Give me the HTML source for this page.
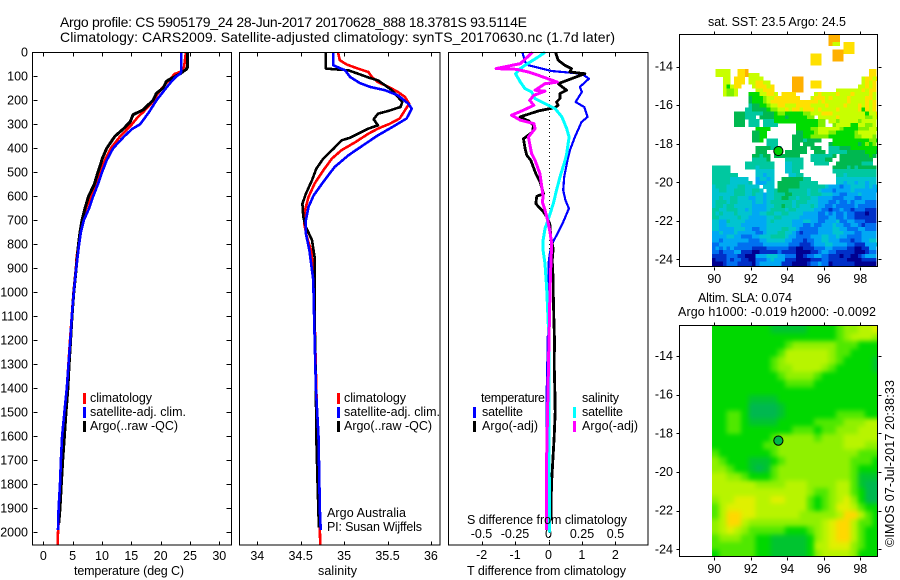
<!DOCTYPE html>
<html><head><meta charset="utf-8"><title>Argo profile</title>
<style>
html,body{margin:0;padding:0;background:#fff;width:900px;height:580px;overflow:hidden}
svg{display:block}
text{font-family:"Liberation Sans",sans-serif;font-size:12.5px;fill:#000}
.t{font-size:14px}
</style></head><body>
<svg id="chart" width="900" height="580" viewBox="0 0 900 580" xmlns="http://www.w3.org/2000/svg">
<defs>
<filter id="slaBlur" filterUnits="userSpaceOnUse" x="680" y="300" width="220" height="280" color-interpolation-filters="sRGB"><feGaussianBlur stdDeviation="2.4"/></filter>
<clipPath id="slaClip"><rect x="712" y="326" width="165.5" height="230.5"/></clipPath>
</defs>
<text class="t" x="60" y="27" textLength="467">Argo profile: CS 5905179_24 28-Jun-2017 20170628_888 18.3781S 93.5114E</text>
<text class="t" x="60" y="42" textLength="555">Climatology: CARS2009. Satellite-adjusted climatology: synTS_20170630.nc (1.7d later)</text>

<g id="sstCells"></g>
<g clip-path="url(#slaClip)"><g id="slaCells" filter="url(#slaBlur)"></g></g>
<g id="maps"></g>
<g id="plots"></g>

<rect x="32.5" y="52.5" width="199" height="492.5" fill="none" stroke="#000" shape-rendering="crispEdges"/>
<rect x="239.5" y="52.5" width="200.5" height="492.5" fill="none" stroke="#000" shape-rendering="crispEdges"/>
<rect x="448.5" y="52.5" width="199.5" height="492.5" fill="none" stroke="#000" shape-rendering="crispEdges"/>
<rect x="679.5" y="34.5" width="198" height="232" fill="none" stroke="#000" shape-rendering="crispEdges"/>
<rect x="679.5" y="325.5" width="198" height="231" fill="none" stroke="#000" shape-rendering="crispEdges"/>

<text x="74" y="575" textLength="110">temperature (deg C)</text>
<text x="318" y="575" textLength="39">salinity</text>
<text x="467" y="575" textLength="159">T difference from climatology</text>
<text x="467" y="524" textLength="160">S difference from climatology</text>

<g>
<rect x="83" y="393" width="3" height="11" fill="#f00"/>
<rect x="83" y="407" width="3" height="11" fill="#00f"/>
<rect x="83" y="421" width="3" height="11" fill="#000"/>
<text x="90" y="402" textLength="62">climatology</text>
<text x="90" y="416" textLength="96">satellite-adj. clim.</text>
<text x="90" y="430" textLength="88">Argo(..raw -QC)</text>
</g>
<g>
<rect x="337" y="393" width="3" height="11" fill="#f00"/>
<rect x="337" y="407" width="3" height="11" fill="#00f"/>
<rect x="337" y="421" width="3" height="11" fill="#000"/>
<text x="344" y="402" textLength="62">climatology</text>
<text x="344" y="416" textLength="96">satellite-adj. clim.</text>
<text x="344" y="430" textLength="88">Argo(..raw -QC)</text>
<text x="327" y="517" textLength="79">Argo Australia</text>
<text x="327" y="531" textLength="95">PI: Susan Wijffels</text>
</g>
<g>
<rect x="473" y="407" width="3" height="11" fill="#00f"/>
<rect x="473" y="421" width="3" height="11" fill="#000"/>
<rect x="573" y="407" width="3" height="11" fill="#0ff"/>
<rect x="573" y="421" width="3" height="11" fill="#f0f"/>
<text x="481" y="402" textLength="64">temperature</text>
<text x="482" y="416" textLength="41">satellite</text>
<text x="482" y="430" textLength="56">Argo(-adj)</text>
<text x="582" y="402" textLength="37">salinity</text>
<text x="582" y="416" textLength="41">satellite</text>
<text x="582" y="430" textLength="56">Argo(-adj)</text>
</g>

<text x="708" y="26" textLength="138">sat. SST: 23.5 Argo: 24.5</text>
<text x="698" y="302" textLength="94">Altim. SLA: 0.074</text>
<text x="678" y="316" textLength="198">Argo h1000: -0.019 h2000: -0.0092</text>
<text transform="translate(894,547) rotate(-90)" x="0" y="0" textLength="167">©IMOS 07-Jul-2017 20:38:33</text>
</svg>
<script>
// ---- axis tick values
const depthTicks = [0,100,200,300,400,500,600,700,800,900,1000,1100,1200,1300,1400,1500,1600,1700,1800,1900,2000];
const tempTicks = [0,5,10,15,20,25,30];
const salTicks = [34,34.5,35,35.5,36];
const tDiffTicks = [-2,-1,0,1,2];
const tDiffLabels = ['-2','-1','0','1','2'];
const sDiffTicks = [-0.5,-0.25,0,0.25,0.5];
const lonTicks = [90,92,94,96,98];
const latTicks = [-14,-16,-18,-20,-22,-24];

// ---- temperature panel data
const tempArgoDepth = [0,60,70,90,120,150,170,200,240,260,290,320,350,400,440,500,550,600,650,700,750,800,900,1000,1100,1200,1300,1400,1500,1600,1700,1800,1900,1960];
const tempArgo = [24.6,24.6,24.4,23.3,21.0,20.4,19.3,18.7,17.0,15.3,14.8,13.6,12.2,10.8,10.1,9.3,8.7,7.7,7.1,6.6,6.25,6.0,5.6,5.2,4.9,4.65,4.4,4.2,3.87,3.6,3.3,3.07,2.85,2.65];
const tempClimDepth = [0,60,80,90,120,150,180,200,250,270,300,350,400,450,500,550,600,650,700,750,800,850,900,1000,1200,1400,1600,1800,2000,2050];
const tempClim = [24.3,24.0,23.5,22.4,21.3,20.2,19.3,18.9,17.0,16.1,15.1,13.1,11.5,10.5,9.7,8.9,8.1,7.3,6.8,6.25,6.0,5.7,5.55,5.15,4.55,4.0,3.5,3.0,2.5,2.45];
const tempSatDepth = [0,80,90,100,120,150,200,250,300,320,350,400,450,500,550,600,650,700,750,800,900,1000,1100,1200,1300,1400,1500,1600,1700,1800,1900,1990];
const tempSat = [23.5,23.5,23.3,22.7,21.9,20.9,19.3,18.0,16.5,15.1,13.8,11.9,10.8,10.0,9.3,8.5,7.8,6.9,6.4,6.1,5.6,5.2,4.85,4.6,4.3,4.0,3.6,3.2,3.0,2.85,2.6,2.5];

// ---- salinity panel data
const salArgoDepth = [0,68,75,89,105,117,137,158,186,207,228,244,256,279,304,318,336,356,367,401,443,485,533,589,631,686,728,783,853,1033,1200,1400,1600,1800,1980];
const salArgo = [34.79,34.79,35.05,35.16,35.28,35.39,35.47,35.55,35.62,35.67,35.65,35.51,35.39,35.34,35.39,35.28,35.18,35.07,34.97,34.88,34.76,34.68,34.63,34.56,34.52,34.53,34.56,34.63,34.66,34.66,34.665,34.675,34.68,34.695,34.71];
const salClimDepth = [0,33,51,68,82,103,124,144,165,186,214,242,276,297,318,339,374,408,443,492,547,603,658,714,769,825,894,1033,1400,1800,2050];
const salClim = [34.93,34.95,35.03,35.16,35.28,35.32,35.39,35.51,35.62,35.70,35.75,35.70,35.64,35.53,35.39,35.28,35.13,34.97,34.86,34.76,34.66,34.59,34.55,34.54,34.57,34.62,34.64,34.655,34.68,34.71,34.725];
const salSatDepth = [0,54,75,103,128,144,158,179,214,235,276,304,346,387,429,478,540,596,644,700,756,825,950,1033,1400,1500,1600,1800,1900,1990];
const salSat = [34.875,34.875,35.01,35.07,35.18,35.30,35.47,35.62,35.74,35.78,35.72,35.59,35.39,35.22,35.05,34.89,34.76,34.65,34.59,34.56,34.56,34.60,34.645,34.65,34.675,34.69,34.705,34.715,34.72,34.73];

// ---- difference panel data
const dTSatDepth = [0,40,54,78,89,110,144,165,207,228,269,290,353,408,450,519,575,617,651,707,749,797,839,881,992,1200,1400,1650];
const dTSat = [-0.78,-0.70,-0.60,0.09,0.99,1.21,0.94,1.0,0.81,1.07,1.17,0.99,0.79,0.64,0.57,0.47,0.44,0.51,0.61,0.44,0.29,0.11,0.04,0,0,-0.02,-0.05,-0.05];
const dTArgoDepth = [0,33,54,68,82,89,110,131,158,172,193,207,221,231,244,269,286,304,332,360,401,429,450,506,540,589,600,631,665,686,714,769,818,867,950,992,1100,1200,1300,1400,1500,1600,1800,1950];
const dTArgo = [0.21,0.29,0.49,0.69,0.64,1.09,0.69,0.29,0.54,0.34,0.34,0.24,0.29,0.19,-0.30,-0.85,-0.60,-0.45,-0.48,-0.75,-0.70,-0.65,-0.53,-0.38,-0.25,-0.15,-0.35,-0.38,-0.15,-0.05,0.04,0.07,0.14,0.11,0.14,0.14,0.16,0.18,0.17,0.19,0.2,0.17,0.09,0.07];
const dSSatDepth = [0,19,50,68,89,124,151,165,193,214,235,269,318,353,422,450,519,575,631,693,735,783,825,881,978,1200,1600,2000];
const dSSat = [-0.026,-0.076,-0.164,-0.21,-0.246,-0.21,-0.176,-0.126,-0.10,-0.026,0.05,0.1,0.136,0.154,0.136,0.124,0.086,0.06,0.036,0,-0.026,-0.04,-0.04,-0.026,-0.014,0.004,0.004,0.008];
const dSArgoDepth = [0,47,68,71,82,96,124,131,158,162,179,200,221,242,262,283,297,318,353,422,450,506,561,603,624,658,700,749,797,867,992,1300,1700,1990];
const dSArgo = [-0.12,-0.21,-0.39,-0.24,-0.15,-0.076,0.066,-0.026,-0.10,-0.026,-0.11,-0.14,-0.11,-0.19,-0.276,-0.21,-0.11,-0.10,-0.15,-0.126,-0.10,-0.064,-0.05,-0.04,-0.046,-0.026,-0.006,0.011,0.024,0.019,0.011,0,-0.014,-0.014];

// ---- SST map: 0.2 degree cells, colour-class per cell, '.' = no data
const sstLevels = {'0':'#000090','1':'#0030c8','2':'#0070f0','3':'#00a8f4','4':'#00c4d0','5':'#00c8a0','6':'#00b850','7':'#00dc00','8':'#80f000','9':'#c8ff00','a':'#ffe000','b':'#ffb000'};
const sstRows = [
"................................bbb",
"................................bbb",
"................................b99.aaa",
"....................................aaa",
".................................bbbaaa",
"...........................aaa...bbb",
"...........................aaa...bbb",
"...........................aaa",
"",
".9999..aab.................................aa",
".9999..aab999..............................aa",
"...99.aaa.9999........bbb................9aa9a",
"...99.aaa.99aa99......bbb..aaa...........9a9a",
"...979aa...9aaa9a.....bbb..aaa..........99a9a",
"...9889.....99aaa.....bbb.........9999999a9aa",
"...9889...77799aa9.aaaa.....9a9999a999a9999a9",
"..........6777899aaaaaaa...9aaa9a9999a9999aa9",
"..........677789aaaaaaaaaaaaa9a999999a9999a9a",
"..........56677899aa999aaaa9999a9999a999a9a9a",
".........55666678899a9aa9aaa9a9999a99999a7a9a",
"......666555556667887777788999aaa999999999799a",
"......666555.666677767777788.99999a99999998899",
"......666.555.55577777777777788.9989999989999",
"......666.555.5555.....77777788..899997799889",
"............7777.......77778899999987777888998",
"...........6677........6677789998877777899999",
"...........6677.......66677888887777777889998",
"...........667.555....66656666...77777777778877",
"...............555....66.666....6777777767878",
"............6666555...6666.666..55566677777777",
"............666.....666666..666.555556666677767",
"...........66566.6666666...5555556.6666666676",
"...........55556....55555..555566..666666666",
".........55555555...44555...5555..6666666555",
"55555....55545555...44555........666656566666",
"55555.......44444...4455.........555555555555",
"5555555.....44344....4455.........55455555555",
"5555544444..34434..66666655.......44444444444",
"55555444445.33344.66666655555.....44344344344",
"4555444554444.444.6666665555555433323344443434",
"44554455544554.4456665555545543332333343333333",
"444444555445443445556655554555444332233343333",
"445445544433443445566554555443333222333223333",
"455545544443443455555545554443332232232333222",
"455455444443333445565545444543322322222322222",
"554455544343333455554554444433221223221222111",
"545444544443344554455444433332232322322111011",
"554444454433333445544444333332223322322111111",
"443354444333333454444433344332233342233222111",
"443344443333333444444433322322333433223321222",
"443333444332233444455443222223333443322233222",
"334333433333223444554432122223333444333223333",
"333344332223344455554332222333443343322223333",
"332333333322233444443322212233443332221223344",
"2233333222222233333332221112333443333221113334",
"232323222221111222222110011122233222211001133",
"221222331110011111211110000112332211111000122",
"111122211000333444332220012233221110110012333",
"011121221100222343331110000111221111100001111",
"000122211110233333311100001223220111111000000"];

// ---- SLA map: 0.4 degree cells, colour-class per cell
const slaLevels = {'0':'#00b850','1':'#00c430','2':'#00d800','3':'#50e800','4':'#90f000','5':'#b8f400','6':'#e0f000','7':'#ffd800'};
const slaRows = [
"22222222111112222344556",
"22222222222222222345554",
"22222222223444444333222",
"22222222235555554332222",
"22222222345555554322221",
"22222222344555543222221",
"22222222234444322222222",
"22222222223333222222222",
"22222222222222222222222",
"22222111122222222222222",
"22222000012222222222222",
"22332000012222222333322",
"22332111122222333344455",
"22332222222333233444555",
"22222222344444344455555",
"22222223344444444455544",
"32222222344444444444333",
"43222111234444444443332",
"44322101344444444443222",
"55443222344444444443111",
"55555544445554444553100",
"55555555555554334553200",
"45566655665553234564200",
"35666655555553234665322",
"35776655555544444577532",
"45775444444444456775332",
"45654333332223456775322",
"34443322111112456775322",
"33333322111112556664322",
"23333322111112455554222"];

const profileLon = 93.5114;
const profileLat = -18.3781;

// ---- axis functions
function yDepth(d){return 52.3+0.24*d;}
function xTemp(t){return 43.3+5.867*t;}
function xSal(s){return 257.3+86.8*(s-34);}
function xDT(t){return 548.5+33.4*t;}
function xDS(s){return 548.5+134*s;}
function xLon(l){return 714.3+18.25*(l-90);}
function ySst(l){return 66.7+19.27*(-14-l);}
function ySla(l){return 356+19.33*(-14-l);}

const NS='http://www.w3.org/2000/svg';
const plots=document.getElementById('plots');
const maps=document.getElementById('maps');

function tickLine(parent,name,x1,y1,x2,y2){
  const el=document.createElementNS(NS,'line');
  
  
  el.setAttribute('x1',Math.round(x1)+0.5);el.setAttribute('y1',Math.round(y1)+0.5);
  el.setAttribute('x2',Math.round(x2)+0.5);el.setAttribute('y2',Math.round(y2)+0.5);
  el.setAttribute('stroke','#000');
  el.setAttribute('shape-rendering','crispEdges');
  parent.appendChild(el);
}
function label(parent,name,x,y,anchor,str){
  const el=document.createElementNS(NS,'text');
  
  
  el.setAttribute('x',x);el.setAttribute('y',y);
  el.setAttribute('text-anchor',anchor);
  el.textContent=str;
  parent.appendChild(el);
}
function profile(name,depths,vals,xf,color,w){
  const el=document.createElementNS(NS,'polyline');
  
  
  el.setAttribute('points',depths.map((d,i)=>xf(vals[i]).toFixed(1)+','+yDepth(d).toFixed(1)).join(' '));
  el.setAttribute('fill','none');
  el.setAttribute('stroke',color);
  el.setAttribute('stroke-width',w);
  el.setAttribute('shape-rendering','crispEdges');
  el.setAttribute('stroke-linejoin','round');
  plots.appendChild(el);
}

// profile panel ticks
depthTicks.forEach(d=>{
  const y=yDepth(d);
  tickLine(plots,'depth-tick',32.5,y,37,y);
  tickLine(plots,'depth-tick-right',226,y,231,y);
  label(plots,'depth-tick-label',28,y+4,'end',String(d));
});
tempTicks.forEach(t=>{
  const x=xTemp(t);
  tickLine(plots,'temperature-tick-top',x,52,x,56);
  tickLine(plots,'temperature-tick-bottom',x,541,x,545);
  label(plots,'temperature-tick-label',x,560,'middle',String(t));
});
salTicks.forEach(s=>{
  const x=xSal(s);
  tickLine(plots,'salinity-tick-top',x,52,x,56);
  tickLine(plots,'salinity-tick-bottom',x,541,x,545);
  label(plots,'salinity-tick-label',x,560,'middle',String(s));
});
tDiffTicks.forEach((t,i)=>{
  const x=xDT(t);
  tickLine(plots,'t-difference-tick-top',x,52,x,56);
  tickLine(plots,'t-difference-tick-bottom',x,541,x,545);
  label(plots,'t-difference-tick-label',x,559,'middle',tDiffLabels[i]);
});
sDiffTicks.forEach(s=>{
  label(plots,'s-difference-tick-label',xDS(s),538,'middle',String(s));
});

// zero line
const zero=document.createElementNS(NS,'line');


zero.setAttribute('x1',Math.round(xDT(0))+0.5);zero.setAttribute('x2',Math.round(xDT(0))+0.5);
zero.setAttribute('y1',52);zero.setAttribute('y2',545);
zero.setAttribute('stroke','#000');
zero.setAttribute('stroke-dasharray','1 3');
zero.setAttribute('shape-rendering','crispEdges');
plots.appendChild(zero);

// series
profile('temperature-climatology-line',tempClimDepth,tempClim,xTemp,'#f00',2.6);
profile('temperature-argo-line',tempArgoDepth,tempArgo,xTemp,'#000',3);
profile('temperature-satellite-line',tempSatDepth,tempSat,xTemp,'#00f',2.6);
profile('salinity-climatology-line',salClimDepth,salClim,xSal,'#f00',2.6);
profile('salinity-argo-line',salArgoDepth,salArgo,xSal,'#000',2.6);
profile('salinity-satellite-line',salSatDepth,salSat,xSal,'#00f',2.6);
profile('t-difference-satellite-line',dTSatDepth,dTSat,xDT,'#00f',2.2);
profile('t-difference-argo-line',dTArgoDepth,dTArgo,xDT,'#000',2.8);
profile('s-difference-satellite-line',dSSatDepth,dSSat,xDS,'#0ff',3);
profile('s-difference-argo-line',dSArgoDepth,dSArgo,xDS,'#f0f',3);

// heatmaps: edge cells of the blurred map overhang the clip so the blur keeps its colour at the border
function heatmap(parent,name,rows,levels,yf,stepDeg,lon0,lat0,overhang){
  rows.forEach((row,r)=>{
    for(let c=0;c<row.length;c++){
      const color=levels[row[c]];
      if(!color) continue;
      let x0=xLon(lon0+c*stepDeg), x1=xLon(lon0+(c+1)*stepDeg);
      if(x0>=877.5) continue;
      x1=Math.min(x1,877.5);
      let y0=yf(lat0-r*stepDeg), y1=yf(lat0-(r+1)*stepDeg);
      if(overhang){
        if(c===0) x0-=overhang;
        if(c===row.length-1) x1+=overhang;
        if(r===0) y0-=overhang;
        if(r===rows.length-1) y1+=overhang;
      }
      const el=document.createElementNS(NS,'rect');
      
      
      el.setAttribute('x',x0.toFixed(2));el.setAttribute('y',y0.toFixed(2));
      el.setAttribute('width',(x1-x0+0.3).toFixed(2));el.setAttribute('height',(y1-y0+0.3).toFixed(2));
      el.setAttribute('fill',color);
      el.setAttribute('shape-rendering','crispEdges');
      parent.appendChild(el);
    }
  });
}
heatmap(document.getElementById('sstCells'),'sst-cell',sstRows,sstLevels,ySst,0.2,89.87,-12.32,0);
heatmap(document.getElementById('slaCells'),'sla-cell',slaRows,slaLevels,ySla,0.4,89.87,-12.43,14);

function mapAxes(prefix,yf,top,bottom,labelY){
  lonTicks.forEach(l=>{
    const x=xLon(l);
    tickLine(maps,prefix+'-lon-tick-top',x,top-3,x,top);
    tickLine(maps,prefix+'-lon-tick-bottom',x,bottom,x,bottom+3);
    label(maps,prefix+'-lon-tick-label',x,labelY,'middle',String(l));
  });
  latTicks.forEach(l=>{
    const y=yf(l);
    tickLine(maps,prefix+'-lat-tick-left',676,y,679,y);
    tickLine(maps,prefix+'-lat-tick-right',878,y,881,y);
    label(maps,prefix+'-lat-tick-label',673,y+4,'end',String(l));
  });
}
mapAxes('sst',ySst,34,267,283);
mapAxes('sla',ySla,325,557,573);

function marker(name,yf,fill){
  const el=document.createElementNS(NS,'circle');
  
  
  el.setAttribute('cx',xLon(profileLon));
  el.setAttribute('cy',yf(profileLat));
  el.setAttribute('r',4.6);
  el.setAttribute('fill',fill);
  el.setAttribute('stroke','#000');
  maps.appendChild(el);
}
marker('sst-profile-marker',ySst,'#00d000');
marker('sla-profile-marker',ySla,'#00b848');
</script>
</body></html>
